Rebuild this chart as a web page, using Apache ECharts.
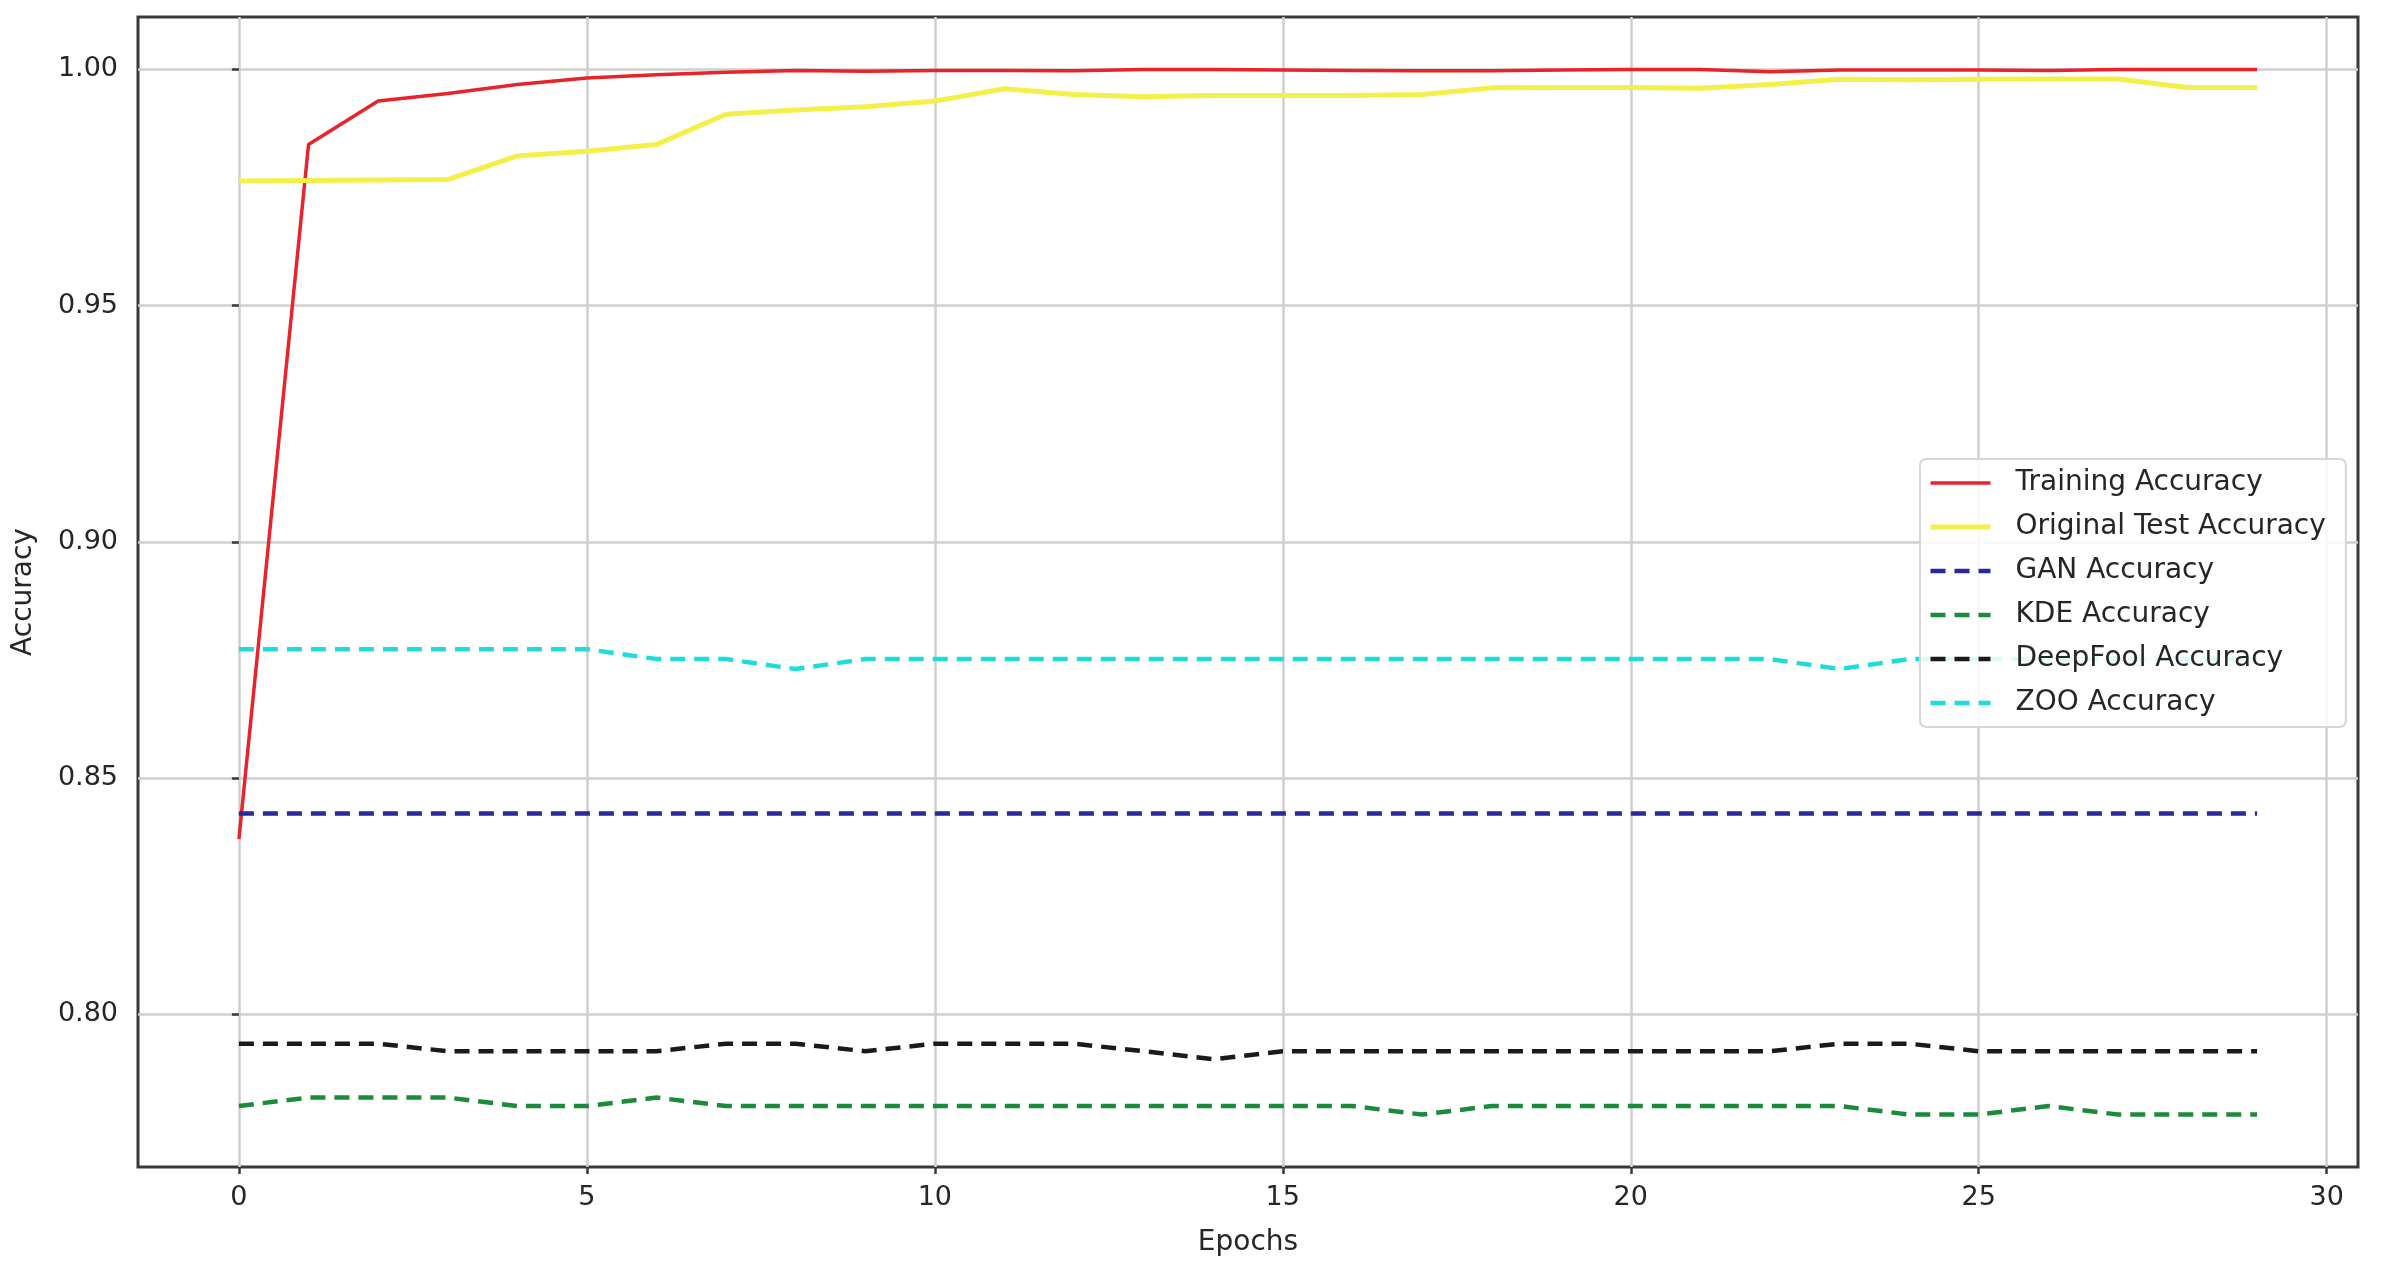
<!DOCTYPE html>
<html>
<head>
<meta charset="utf-8">
<script src="https://cdn.jsdelivr.net/npm/echarts@6/dist/echarts.min.js"></script>
<style>
  html, body { margin: 0; padding: 0; background: #ffffff; }
  #chart { width: 2386px; height: 1279px; }
</style>
</head>
<body>
<div id="chart"></div>
<script>
const epochs = [0,1,2,3,4,5,6,7,8,9,10,11,12,13,14,15,16,17,18,19,20,21,22,23,24,25,26,27,28,29];
const trainingAcc = [0.8371,0.9841,0.9933,0.9949,0.9968,0.9982,0.9989,0.9994,0.9998,0.9996,0.9998,0.9998,0.9997,1.0,1.0,0.9999,0.9998,0.9997,0.9997,0.9999,1.0,1.0,0.9995,0.9999,0.9999,0.9999,0.9998,1.0,1.0,1.0];
const originalTestAcc = [0.9764,0.9765,0.9766,0.9767,0.9817,0.9827,0.9841,0.9905,0.9914,0.9921,0.9933,0.9959,0.9947,0.9942,0.9945,0.9945,0.9945,0.9947,0.9961,0.9962,0.9962,0.9960,0.9968,0.9979,0.9978,0.9979,0.9980,0.9980,0.9962,0.9962];
const ganAcc = [0.8425,0.8425,0.8425,0.8425,0.8425,0.8425,0.8425,0.8425,0.8425,0.8425,0.8425,0.8425,0.8425,0.8425,0.8425,0.8425,0.8425,0.8425,0.8425,0.8425,0.8425,0.8425,0.8425,0.8425,0.8425,0.8425,0.8425,0.8425,0.8425,0.8425];
const kdeAcc = [0.7806,0.7824,0.7824,0.7824,0.7806,0.7806,0.7824,0.7806,0.7806,0.7806,0.7806,0.7806,0.7806,0.7806,0.7806,0.7806,0.7806,0.7788,0.7806,0.7806,0.7806,0.7806,0.7806,0.7806,0.7788,0.7788,0.7806,0.7788,0.7788,0.7788];
const deepfoolAcc = [0.7938,0.7938,0.7938,0.7922,0.7922,0.7922,0.7922,0.7938,0.7938,0.7922,0.7938,0.7938,0.7938,0.7922,0.7905,0.7922,0.7922,0.7922,0.7922,0.7922,0.7922,0.7922,0.7922,0.7938,0.7938,0.7922,0.7922,0.7922,0.7922,0.7922];
const zooAcc = [0.8773,0.8773,0.8773,0.8773,0.8773,0.8773,0.8752,0.8752,0.8731,0.8752,0.8752,0.8752,0.8752,0.8752,0.8752,0.8752,0.8752,0.8752,0.8752,0.8752,0.8752,0.8752,0.8752,0.8731,0.8752,0.8752,0.8752,0.8752,0.8752,0.8752];

const seriesNames = ['Training Accuracy','Original Test Accuracy','GAN Accuracy','KDE Accuracy','DeepFool Accuracy','ZOO Accuracy'];
const seriesValues = [trainingAcc, originalTestAcc, ganAcc, kdeAcc, deepfoolAcc, zooAcc];
const seriesColors = ['#e8232b','#f5ef4a','#28289c','#1b8a3a','#1a1a1a','#1fdcdc'];
const seriesWidths = [3.5, 5, 4.5, 4.5, 4.5, 4.5];
const seriesDashed = [false, false, true, true, true, true];

const FONT = 'DejaVu Sans';
const chart = echarts.init(document.getElementById('chart'), null, { renderer: 'canvas' });

const lineStyleFor = k => ({
  color: seriesColors[k],
  width: seriesWidths[k],
  type: seriesDashed[k] ? [15, 9] : 'solid'
});

const series = seriesNames.map((name, k) => ({
  name: name,
  type: 'line',
  data: epochs.map((e, i) => [e, seriesValues[k][i]]),
  symbol: 'none',
  showSymbol: false,
  animation: false,
  lineStyle: lineStyleFor(k),
  itemStyle: { color: seriesColors[k] }
}));

chart.setOption({
  backgroundColor: '#ffffff',
  animation: false,
  grid: {
    left: 138, right: 28, top: 17, bottom: 112,
    show: true, borderColor: '#3a3a3a', borderWidth: 3, backgroundColor: 'transparent'
  },
  xAxis: {
    type: 'value',
    min: -1.45, max: 30.45,
    splitNumber: 6,
    name: 'Epochs',
    nameLocation: 'middle',
    nameGap: 62,
    nameTextStyle: { fontFamily: FONT, fontSize: 28, color: '#262626' },
    axisLine: { show: false },
    axisTick: { show: true, length: 7, lineStyle: { color: '#3a3a3a', width: 2.5 } },
    axisLabel: {
      fontFamily: FONT, fontSize: 27, color: '#262626', margin: 17,
      showMinLabel: false, showMaxLabel: false,
      formatter: v => (Math.abs(v - Math.round(v)) < 1e-6 ? String(Math.round(v)) : '')
    },
    splitLine: { show: true, showMinLine: false, showMaxLine: false, lineStyle: { color: '#cfcfcf', width: 2.5 } }
  },
  yAxis: {
    type: 'value',
    min: 0.7677, max: 1.0111,
    splitNumber: 5,
    name: 'Accuracy',
    nameLocation: 'middle',
    nameGap: 100,
    nameTextStyle: { fontFamily: FONT, fontSize: 28, color: '#262626' },
    axisLine: { show: false },
    axisTick: { show: true, length: 7, lineStyle: { color: '#3a3a3a', width: 2.5 } },
    axisLabel: {
      fontFamily: FONT, fontSize: 27, color: '#262626', margin: 20,
      showMinLabel: false, showMaxLabel: false,
      formatter: v => v.toFixed(2)
    },
    splitLine: { show: true, showMinLine: false, showMaxLine: false, lineStyle: { color: '#cfcfcf', width: 2.5 } }
  },
  legend: {
    show: true,
    data: seriesNames.map((n, k) => ({ name: n, lineStyle: lineStyleFor(k) })),
    orient: 'vertical',
    left: 1920, top: 459,
    padding: [9, 20, 9, 8],
    itemWidth: 60, itemHeight: 30, itemGap: 14,
    backgroundColor: 'rgba(255,255,255,0.85)',
    borderColor: '#d6d6d6', borderWidth: 2, borderRadius: 6,
    selectedMode: false,
    itemStyle: { color: 'rgba(0,0,0,0)', borderWidth: 0, borderColor: 'rgba(0,0,0,0)' },
    lineStyle: { width: 'inherit', type: 'inherit' },
    textStyle: { fontFamily: FONT, fontSize: 28, color: '#262626', lineHeight: 30, padding: [0, 0, 0, 20] }
  },
  series: series
});
</script>
</body>
</html>
